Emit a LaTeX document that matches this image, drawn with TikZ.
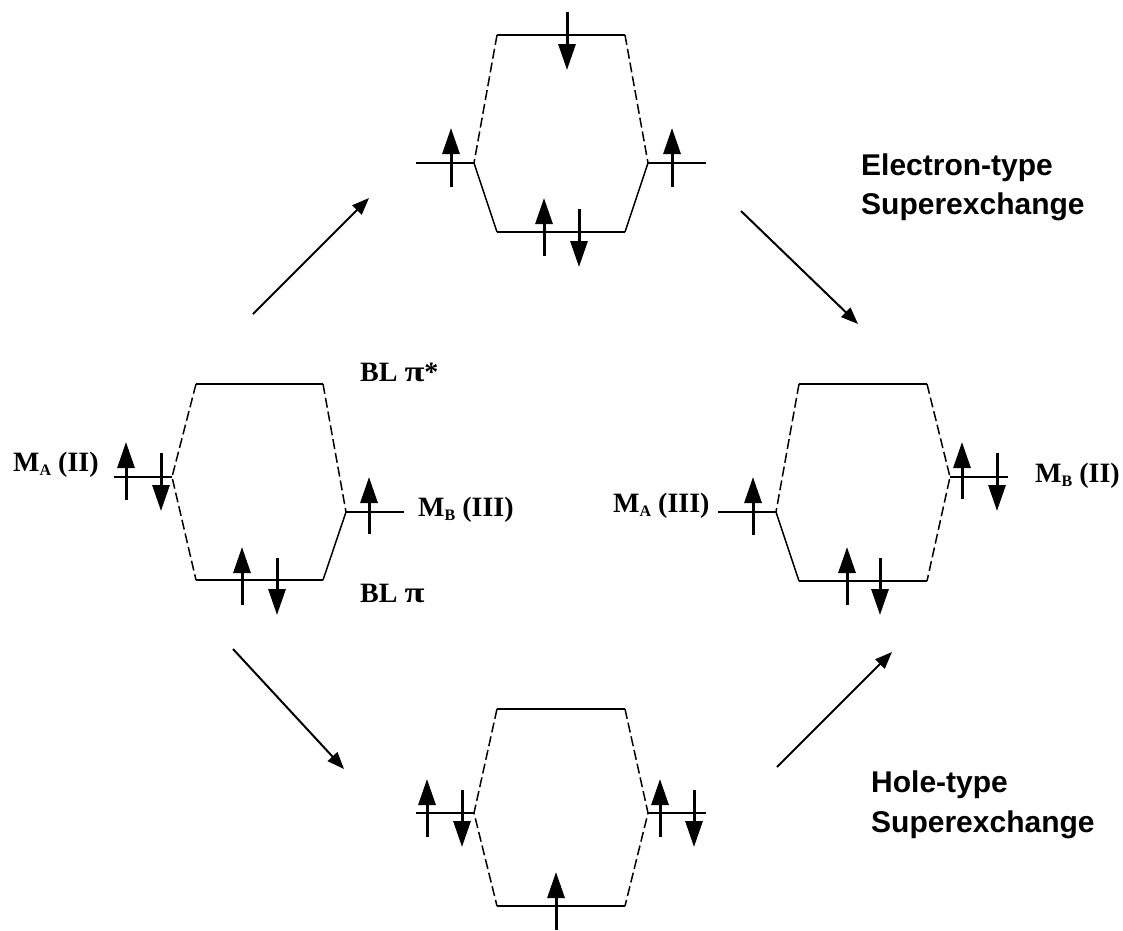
\documentclass[tikz,border=0pt]{standalone}
\usepackage{fontspec}
\setmainfont{Liberation Serif}
\newfontfamily\sansfont{Liberation Sans}
\usetikzlibrary{arrows.meta}
\newcommand{\subl}[1]{\raisebox{-4.5pt}{\fontsize{16}{16}\selectfont #1}}
\newcommand{\wpi}{\scalebox{1.3}[1.05]{π}}
\begin{document}
\begin{tikzpicture}[x=1pt,y=-1pt,
  level/.style={line width=1.5pt},
  dlevel/.style={line width=1.5pt, dash pattern=on 10pt off 4pt},
  spin/.style={line width=3pt, -{Triangle[length=26pt,width=17pt]}},
  trans/.style={line width=2pt, -{Triangle[length=17pt,width=13pt]}},
  lab/.style={anchor=base west, inner sep=0pt, font=\fontsize{28}{30}\selectfont\bfseries},
  slab/.style={anchor=base west, inner sep=0pt, font=\fontsize{30}{33}\selectfont\sansfont\bfseries}]
\useasboundingbox (0,0) rectangle (1123,930);
% ---------- left diagram ----------
\coordinate (L1) at (196,384); \coordinate (L2) at (323,384);
\coordinate (LA) at (172,477); \coordinate (LA0) at (114,477);
\coordinate (L3) at (196,580); \coordinate (L4) at (323,580);
\coordinate (LB) at (346,512); \coordinate (LB0) at (404,512);
\draw[level] (L1) -- (L2);
\draw[level] (L3) -- (L4);
\draw[level] (LA0) -- (LA);
\draw[level] (LB) -- (LB0);
\draw[dlevel] (L1) -- (LA) -- (L3);
\draw[dlevel] (L2) -- (LB);
\draw[level] (LB) -- (L4);
\draw[spin] (126,500) -- (126,442);
\draw[spin] (161,453) -- (161,511);
\draw[spin] (369,534) -- (369,477);
\draw[spin] (242,605) -- (242,547);
\draw[spin] (277,558) -- (277,615);
\node[lab] (bls) at (360,381) {BL \wpi*};
\node[lab] (bl) at (360,602) {BL \wpi};
\node[lab] (mb3) at (418,516) {M\subl{B} (III)};
\node[lab] (ma2) at (13,471) {M\subl{A} (II)};
% ---------- top diagram ----------
\coordinate (T1) at (497,35); \coordinate (T2) at (625,35);
\coordinate (TA) at (474,163); \coordinate (TA0) at (416,163);
\coordinate (TB) at (648,163); \coordinate (TB0) at (706,163);
\coordinate (T3) at (497,232); \coordinate (T4) at (625,232);
\draw[level] (T1) -- (T2);
\draw[level] (T3) -- (T4);
\draw[level] (TA0) -- (TA);
\draw[level] (TB) -- (TB0);
\draw[dlevel] (T1) -- (TA);
\draw[dlevel] (T2) -- (TB);
\draw[level] (TA) -- (T3);
\draw[level] (TB) -- (T4);
\draw[spin] (567,12) -- (567,70);
\draw[spin] (451,187) -- (451,128);
\draw[spin] (672,187) -- (672,128);
\draw[spin] (544,256) -- (544,198);
\draw[spin] (579,209) -- (579,267);
% ---------- right diagram ----------
\coordinate (R1) at (799,384); \coordinate (R2) at (927,384);
\coordinate (RA) at (776,512); \coordinate (RA0) at (718,512);
\coordinate (RB) at (950,477); \coordinate (RB0) at (1008,477);
\coordinate (R3) at (799,581); \coordinate (R4) at (927,581);
\draw[level] (R1) -- (R2);
\draw[level] (R3) -- (R4);
\draw[level] (RA0) -- (RA);
\draw[level] (RB) -- (RB0);
\draw[dlevel] (R1) -- (RA);
\draw[dlevel] (R2) -- (RB) -- (R4);
\draw[level] (RA) -- (R3);
\draw[spin] (753,535) -- (753,477);
\draw[spin] (962,499) -- (962,442);
\draw[spin] (997,453) -- (997,511);
\draw[spin] (847,605) -- (847,547);
\draw[spin] (880,558) -- (880,615);
\node[lab] (ma3) at (613,512) {M\subl{A} (III)};
\node[lab] (mb2) at (1035,482) {M\subl{B} (II)};
% ---------- bottom diagram ----------
\coordinate (B1) at (497,709); \coordinate (B2) at (625,709);
\coordinate (BA) at (474,813); \coordinate (BA0) at (416,813);
\coordinate (BB) at (648,813); \coordinate (BB0) at (706,813);
\coordinate (B3) at (497,906); \coordinate (B4) at (625,906);
\draw[level] (B1) -- (B2);
\draw[level] (B3) -- (B4);
\draw[level] (BA0) -- (BA);
\draw[level] (BB) -- (BB0);
\draw[dlevel] (B1) -- (BA) -- (B3);
\draw[dlevel] (B2) -- (BB) -- (B4);
\draw[spin] (427,837) -- (427,779);
\draw[spin] (462,790) -- (462,847);
\draw[spin] (660,837) -- (660,779);
\draw[spin] (694,790) -- (694,847);
\draw[spin] (556,930) -- (556,872);
% ---------- transition arrows ----------
\coordinate (a1s) at (253,314); \coordinate (a1e) at (369,198);
\coordinate (a2s) at (741,211); \coordinate (a2e) at (858,324);
\coordinate (a3s) at (233,649); \coordinate (a3e) at (344,769);
\coordinate (a4s) at (777,767); \coordinate (a4e) at (892,652);
\draw[trans] (a1s) -- (a1e);
\draw[trans] (a2s) -- (a2e);
\draw[trans] (a3s) -- (a3e);
\draw[trans] (a4s) -- (a4e);
\node[slab] (el1) at (861,175) {Electron-type};
\node[slab] (el2) at (861,214) {Superexchange};
\node[slab] (ho1) at (871,792) {Hole-type};
\node[slab] (ho2) at (871,832) {Superexchange};
\end{tikzpicture}
\end{document}
